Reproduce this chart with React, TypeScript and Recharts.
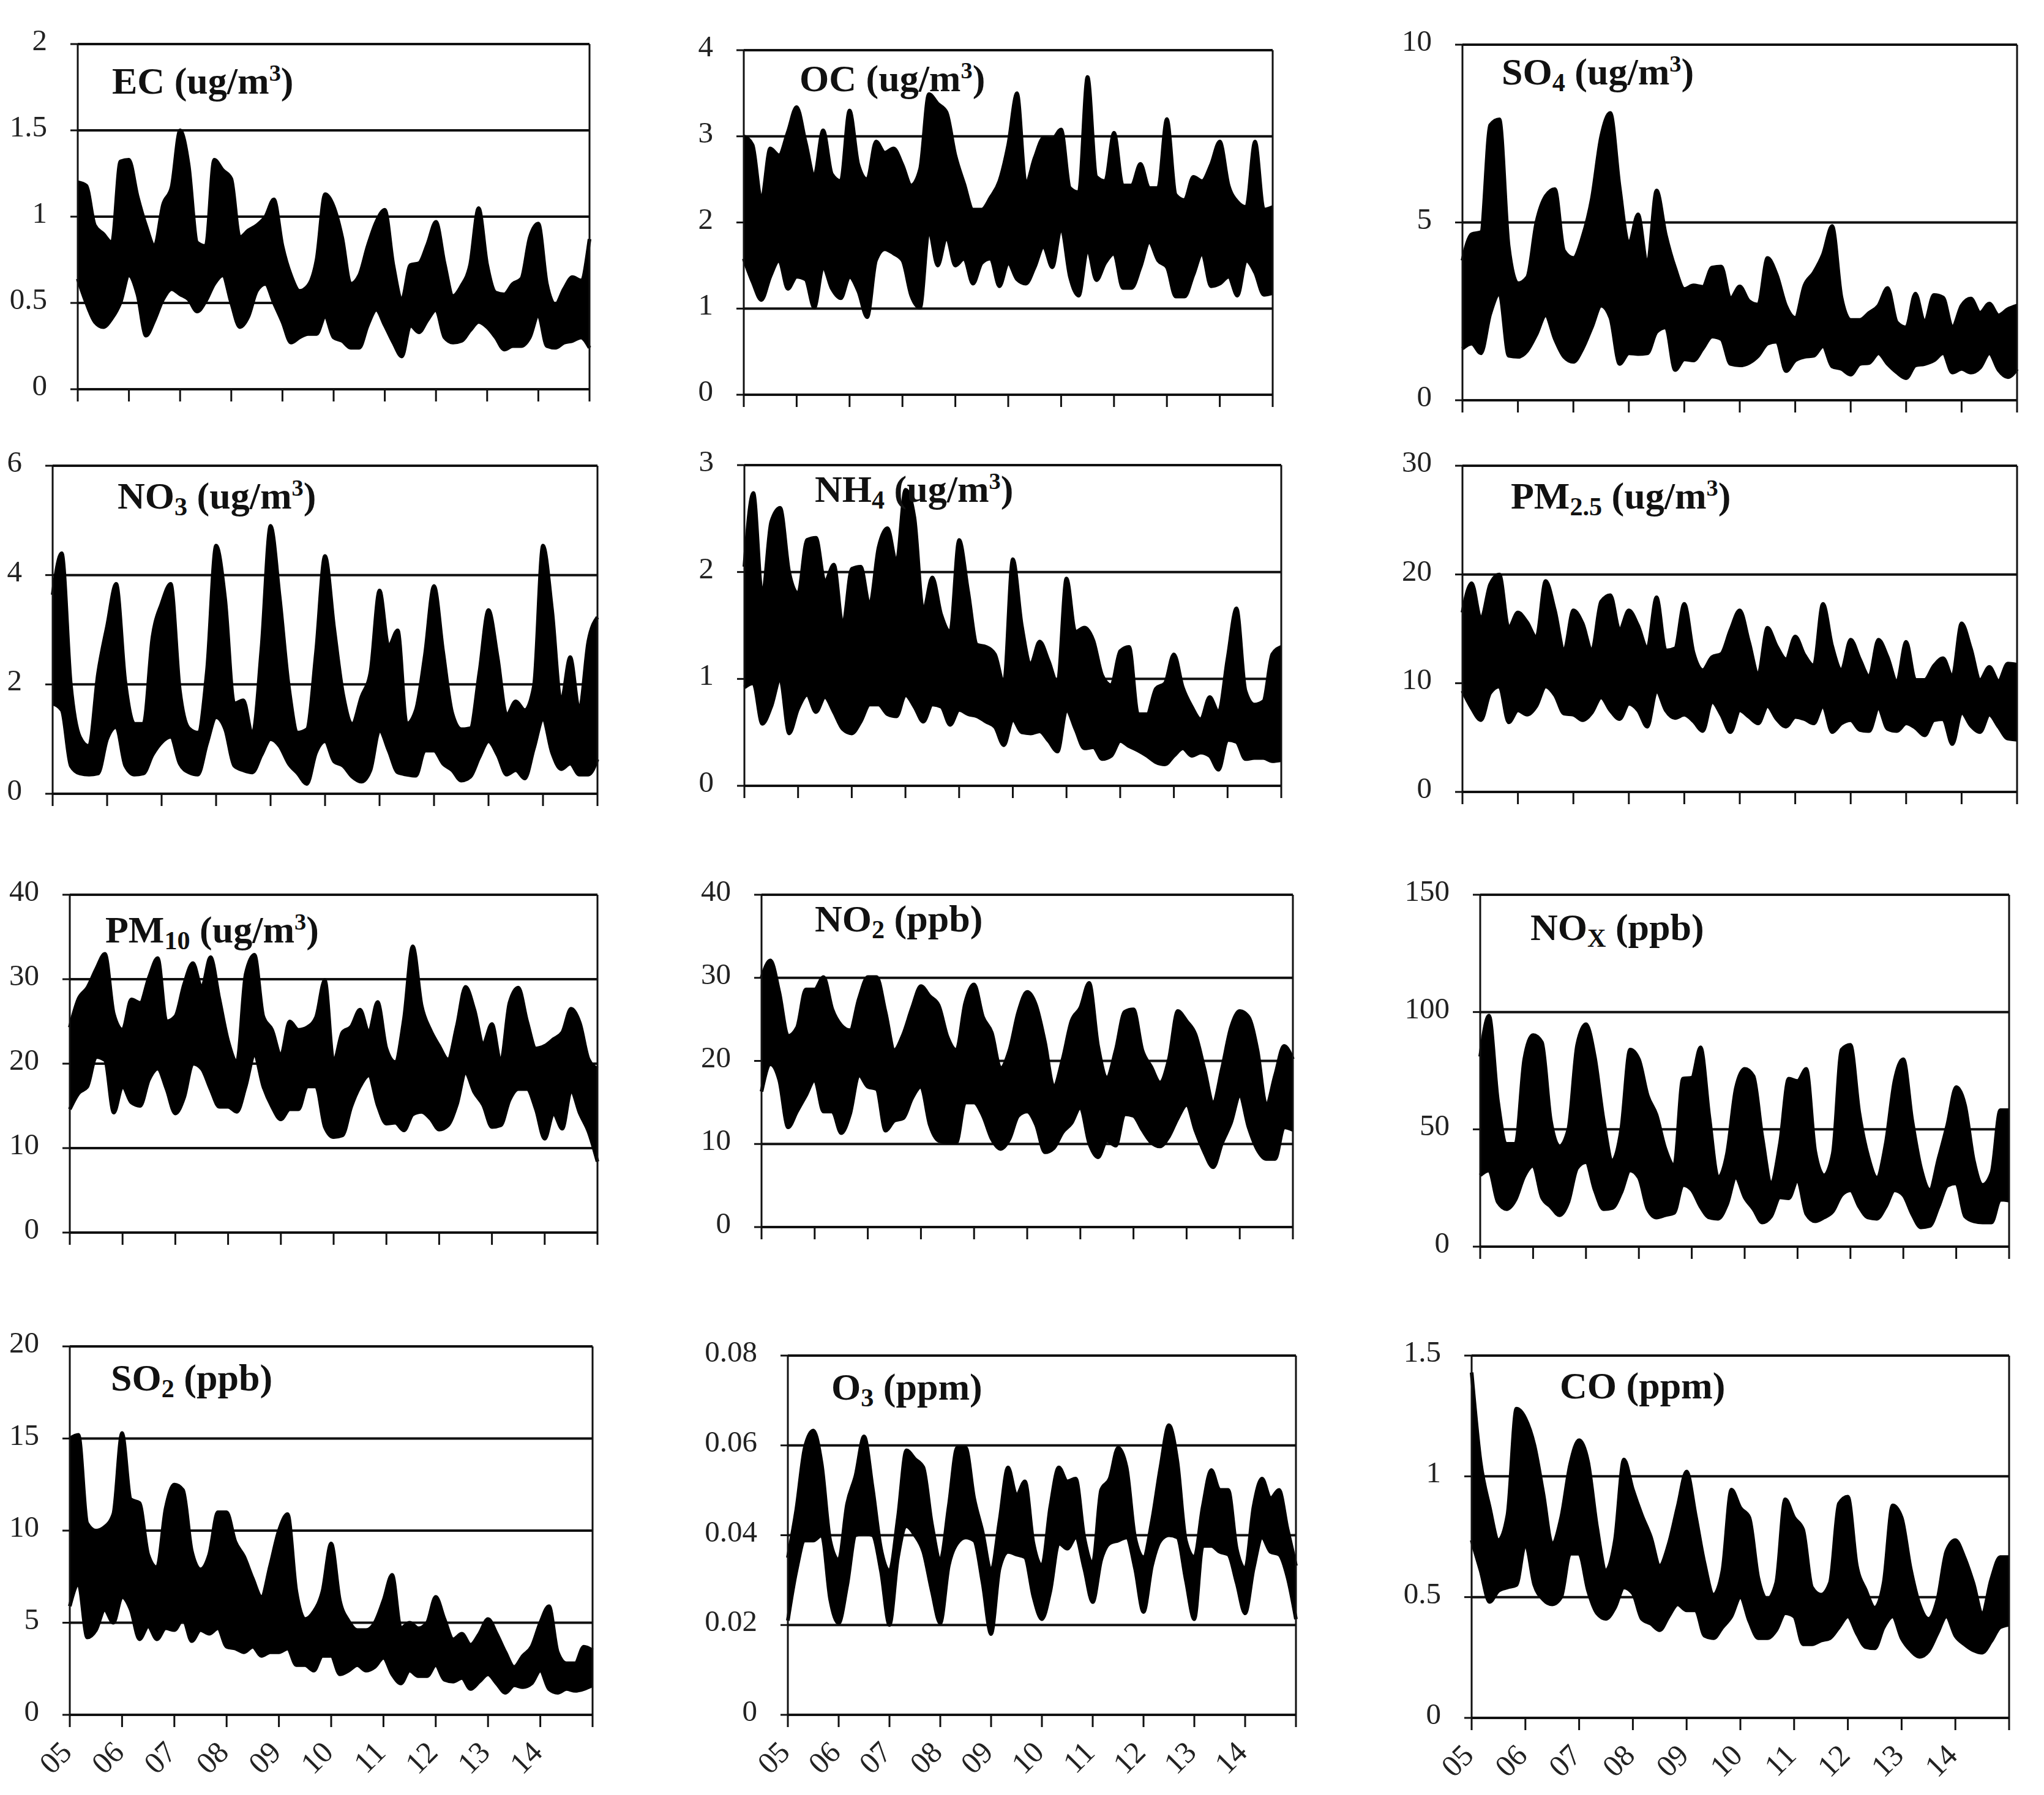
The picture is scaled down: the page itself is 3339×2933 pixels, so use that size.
import React from 'react';
import { AreaChart, Area, XAxis, YAxis, CartesianGrid, ReferenceLine } from 'recharts';

const yearLabels = ['05','06','07','08','09','10','11','12','13','14'];

const ecHi = [1.2,1.18,0.95,0.9,0.85,1.32,1.33,1.12,0.95,0.83,1.07,1.17,1.5,1.3,0.85,0.83,1.33,1.27,1.22,0.88,0.92,0.95,1.0,1.1,0.83,0.66,0.57,0.6,0.75,1.13,1.06,0.88,0.61,0.66,0.83,0.97,1.04,0.72,0.52,0.72,0.73,0.84,0.97,0.73,0.54,0.6,0.72,1.05,0.72,0.56,0.55,0.61,0.64,0.88,0.96,0.61,0.49,0.58,0.65,0.63,0.87];
const ecLo = [0.64,0.5,0.39,0.36,0.41,0.5,0.66,0.55,0.31,0.4,0.52,0.58,0.55,0.52,0.45,0.51,0.61,0.66,0.5,0.36,0.42,0.57,0.61,0.5,0.39,0.27,0.3,0.32,0.32,0.42,0.3,0.28,0.24,0.24,0.37,0.46,0.37,0.27,0.19,0.37,0.33,0.4,0.46,0.3,0.27,0.28,0.34,0.39,0.36,0.3,0.23,0.25,0.25,0.3,0.43,0.25,0.24,0.27,0.28,0.3,0.24];

const ocHi = [3.0,2.9,2.26,2.86,2.78,3.05,3.34,2.94,2.54,3.07,2.56,2.48,3.3,2.67,2.5,2.94,2.81,2.86,2.67,2.43,2.62,3.49,3.38,3.28,2.78,2.45,2.15,2.15,2.29,2.48,2.9,3.5,2.45,2.75,2.98,2.97,3.08,2.4,2.35,3.69,2.53,2.48,3.04,2.43,2.43,2.68,2.4,2.4,3.2,2.32,2.26,2.53,2.48,2.67,2.94,2.43,2.24,2.18,2.94,2.15,2.18];
const ocLo = [1.58,1.31,1.1,1.37,1.56,1.23,1.37,1.34,1.01,1.48,1.23,1.12,1.37,1.2,0.9,1.56,1.69,1.64,1.56,1.15,1.01,1.91,1.5,1.83,1.5,1.58,1.29,1.53,1.58,1.26,1.53,1.34,1.29,1.48,1.72,1.48,1.94,1.37,1.15,1.69,1.33,1.53,1.64,1.24,1.24,1.48,1.77,1.56,1.48,1.14,1.14,1.39,1.64,1.26,1.29,1.37,1.15,1.56,1.42,1.16,1.18];

const so4Hi = [3.93,4.67,4.73,7.74,7.9,4.33,3.29,3.46,5.0,5.74,5.94,4.2,4.0,4.6,5.67,7.41,8.08,6.0,4.4,5.23,3.8,5.9,4.65,3.73,3.13,3.23,3.19,3.73,3.76,2.86,3.2,2.79,2.69,4.0,3.53,2.66,2.32,3.23,3.59,4.1,4.9,2.9,2.26,2.26,2.46,2.66,3.16,2.19,2.05,3.0,2.19,2.96,2.89,2.05,2.66,2.86,2.46,2.72,2.39,2.56,2.66];
const so4Lo = [1.45,1.59,1.32,2.42,3.0,1.25,1.22,1.39,1.85,2.39,1.72,1.22,1.08,1.45,2.05,2.66,2.32,1.02,1.32,1.3,1.32,1.92,2.05,0.85,1.15,1.12,1.45,1.79,1.72,1.02,0.98,1.05,1.25,1.59,1.65,0.82,1.12,1.22,1.25,1.52,0.95,0.88,0.72,1.02,1.05,1.32,1.02,0.78,0.62,0.98,1.02,1.12,1.32,0.78,0.88,0.78,0.92,1.32,0.85,0.65,0.88];

const no3Hi = [3.64,4.4,2.0,1.04,0.87,2.2,3.07,3.84,2.05,1.28,1.28,2.87,3.48,3.84,1.9,1.2,1.12,2.26,4.54,3.56,1.65,1.71,1.08,2.66,4.9,3.6,1.97,1.12,1.18,2.58,4.35,3.03,1.81,1.28,1.77,2.22,3.72,2.7,2.99,1.28,1.53,2.54,3.8,2.6,1.48,1.18,1.2,2.22,3.36,2.5,1.44,1.69,1.53,1.97,4.54,3.36,1.69,2.5,1.53,2.79,3.23];
const no3Lo = [1.65,1.53,0.51,0.37,0.35,0.37,1.0,1.22,0.51,0.35,0.37,0.71,0.94,1.04,0.55,0.39,0.35,0.92,1.4,1.18,0.51,0.43,0.39,0.71,1.0,0.87,0.55,0.37,0.18,0.75,0.96,0.59,0.51,0.31,0.22,0.43,1.16,0.79,0.39,0.35,0.33,0.79,0.79,0.55,0.43,0.24,0.31,0.67,0.96,0.71,0.35,0.43,0.28,0.83,1.36,0.75,0.45,0.55,0.35,0.35,0.63];

const nh4Hi = [2.05,2.74,1.78,2.47,2.6,2.0,1.8,2.3,2.32,1.91,2.07,1.5,2.03,2.05,1.69,2.23,2.41,2.09,2.77,2.51,1.64,1.95,1.6,1.44,2.3,1.82,1.32,1.3,1.23,0.96,2.12,1.5,1.14,1.35,1.17,0.96,1.94,1.44,1.48,1.36,1.03,0.94,1.26,1.3,0.67,0.67,0.91,0.96,1.23,0.92,0.74,0.62,0.83,0.69,1.19,1.66,0.89,0.76,0.79,1.23,1.3];
const nh4Lo = [0.92,0.96,0.58,0.74,1.0,0.49,0.72,0.85,0.69,0.83,0.69,0.53,0.49,0.6,0.76,0.76,0.67,0.65,0.85,0.74,0.6,0.76,0.74,0.57,0.71,0.67,0.65,0.6,0.55,0.38,0.62,0.5,0.49,0.51,0.42,0.32,0.71,0.53,0.35,0.36,0.25,0.28,0.42,0.37,0.33,0.28,0.22,0.2,0.28,0.35,0.28,0.31,0.28,0.15,0.43,0.41,0.25,0.26,0.26,0.23,0.24];

const pm25Hi = [16.5,19.2,15.9,19.1,20,15.1,16.5,15.6,14.2,19.4,16.7,13,16.7,15.5,13,17.5,18.1,14.9,16.7,15.3,13.2,17.9,13,13.2,17.3,12.8,11.2,12.4,12.7,14.9,16.7,13.8,10.8,15.1,13.4,12.2,14.3,12.6,11.6,17.3,13.4,11.2,14,12.2,10.6,14,12.4,10.1,13.8,10.3,10.3,11.6,12.3,10.6,15.5,13.2,10.3,11.5,10.2,11.8,11.7];
const pm25Lo = [9.3,7.7,6.6,9.1,9.7,6.4,7.5,7.1,7.9,9.7,8.9,7.2,7.1,6.6,7.3,8.7,7.5,6.7,8.1,7.5,6,9.3,7.5,6.8,7.1,6.5,5.6,8.3,7.1,5.5,7.5,6.9,6.3,7.9,6.7,6,6.9,6.7,6.3,7.9,5.5,6.3,6.6,5.7,5.6,7.7,5.8,5.6,6.3,5.9,5.2,6.6,6.7,4.4,7.3,6.1,5.5,7.1,6,4.9,4.8];

const pm10Hi = [24.3,27.7,29,31.2,33,25.9,24,27.6,27.2,30.2,32.5,25,25.6,29.4,31.9,29,32.6,27.7,22.7,20.2,30.6,32.9,25.6,24,21,25,24,24.3,25.5,29.9,20.2,23.7,24.4,26.4,23.7,27.3,21.8,20.2,25.3,33.9,26.9,24,22.1,20.5,24.4,29.1,26.4,22.4,24.7,20.2,27.2,29,25,21.8,22.1,22.9,23.7,26.5,24.8,20.5,19.4];
const pm10Lo = [14.6,16.5,17.3,20.8,20.4,14.2,17.3,15.4,15,18.1,19.4,17,14.1,16,20,19.4,17,14.9,14.9,14.3,17.3,21,17.3,14.9,13.4,14.6,14.6,17.3,17.3,12.5,11.3,11.5,14.9,17.3,18.6,15.1,12.9,13,12.1,14,14.3,13.5,12.2,12.7,15.1,18.9,16.6,15.1,12.5,12.7,15.7,17,17,14.6,11.1,14.1,12.3,16.8,14.1,11.9,8.4];

const no2Hi = [30,32.1,28.3,23,24,28.6,28.6,30.1,26.2,24.3,23.7,27.5,30.1,30.1,25.9,21.3,23.2,26.4,29,27.8,26.7,22.9,21.3,27,29.2,25.3,23.4,19.1,21.3,25.9,28.3,26.7,22.3,16.9,20.2,24.8,26.4,29.4,21.8,18,21.3,25.9,26.2,21.3,19.3,17.4,20.2,26,24.8,23.2,19.1,15,19.1,24,26,25.3,21.3,14.7,18.3,21.8,20.2];
const no2Lo = [16.3,19.6,17.7,12,13.9,15.8,17.7,13.9,13.9,11.3,13.6,18.3,16.9,16.6,11.6,12.8,13.1,15.5,16.9,12.3,10.4,10.2,10.2,15,15,13.4,10.6,9.4,10.6,13.4,13.9,12.3,9,9.5,11.4,12.5,14.4,10.1,8.4,10.4,9.8,13.6,13.4,11.7,10.2,9.7,10.9,13.1,14.7,11.6,9,7.2,10.1,12.5,15.8,12,9.3,8.2,8.2,12,11.7];

const noxHi = [81,98.5,62.4,43.8,43.8,79.9,90.2,87.1,54,42.8,50,86,94.8,80.9,54,36.6,50,84,79.9,64.4,56.2,41.8,34.5,71.6,72,85,55,29.4,39.7,67.5,75.8,72.7,46.9,27.3,43.8,71.6,70.6,75.8,40.7,30.4,39.7,84,86,57.2,38.7,29.4,43.8,70.6,79.9,54,33.5,24.2,37.6,52,68,60.3,36.6,26.3,31.4,58.2,58.2];
const noxLo = [30.4,32.5,19,16,20,30,34.5,21,17,13.4,19,33.5,36,24,16,16.5,23,32.5,29.4,16,12.4,13.4,14.4,26.3,24.2,17,12.4,11.9,18,29.4,21,16,10.3,12.9,21,20.6,28.4,13.9,10.8,12.4,15,22,24,17,12.4,11.9,17,24,22,13.9,8.2,8.8,17,26,27,12.9,10.8,10.3,10.3,20,19.6];

const so2Hi = [15,15.2,10.4,10,10.2,10.9,15.3,11.7,11.5,8.7,8,11.2,12.5,12.2,8.9,7.9,8.7,11,11,9.4,8.6,7.4,6.4,8.1,10,10.9,6.7,5.2,5.6,6.7,9.3,6.2,5.1,4.6,4.6,5,6.2,7.6,4.7,5,4.7,5,6.4,5.2,4.1,4.4,3.8,4.4,5.2,4.4,3.4,2.6,3.2,3.7,5,5.9,3.4,2.8,2.8,3.7,3.5];
const so2Lo = [5.9,7.1,4.2,4.6,5.7,5,6.4,5.7,4.1,4.8,4.1,4.7,4.6,5.2,4,4.6,4.4,4.7,3.7,3.6,3.4,3.7,3.2,3.4,3.4,3.6,2.7,2.7,2.4,3.2,3.2,2.2,2.4,2.7,2.4,2.6,3.1,2.2,1.7,2.4,2.1,2.1,2.7,1.9,1.8,2,1.4,1.8,2.2,1.7,1.2,1.6,1.5,1.7,2.4,1.4,1.2,1.4,1.3,1.4,1.6];

const o3Hi = [0.035,0.0457,0.0595,0.0633,0.0558,0.0388,0.0345,0.047,0.0533,0.062,0.0507,0.037,0.032,0.0439,0.0589,0.057,0.0551,0.0426,0.0345,0.0464,0.0595,0.0595,0.0482,0.0407,0.032,0.0432,0.0551,0.0489,0.052,0.0382,0.0332,0.0464,0.0551,0.052,0.0526,0.0395,0.0338,0.0501,0.0526,0.0595,0.0551,0.0395,0.0351,0.0432,0.0551,0.0645,0.0564,0.0388,0.0351,0.0464,0.0545,0.0501,0.0501,0.037,0.0326,0.0464,0.0526,0.0482,0.0501,0.0414,0.0332];
const o3Lo = [0.021,0.032,0.0388,0.0388,0.04,0.0257,0.0204,0.0288,0.04,0.0404,0.04,0.032,0.02,0.035,0.042,0.04,0.0363,0.0276,0.0204,0.0332,0.0382,0.0395,0.0388,0.0294,0.018,0.0326,0.0363,0.0357,0.0351,0.0263,0.0213,0.0276,0.0382,0.037,0.0395,0.0326,0.0251,0.0345,0.0382,0.0388,0.0395,0.0326,0.0229,0.0332,0.0388,0.04,0.0395,0.03,0.0213,0.0376,0.0376,0.0363,0.0357,0.0294,0.0226,0.0326,0.0395,0.0363,0.0357,0.0307,0.0213];

const coHi = [1.43,1.06,0.875,0.736,0.84,1.28,1.24,1.13,0.93,0.72,0.83,1.05,1.15,1.06,0.79,0.61,0.736,1.07,0.945,0.84,0.75,0.63,0.72,0.875,1.02,0.84,0.64,0.51,0.61,0.945,0.87,0.83,0.58,0.49,0.56,0.905,0.83,0.78,0.54,0.51,0.56,0.887,0.916,0.63,0.53,0.456,0.56,0.88,0.83,0.62,0.47,0.41,0.49,0.69,0.736,0.666,0.56,0.433,0.573,0.666,0.666];
const coLo = [0.736,0.61,0.48,0.526,0.54,0.55,0.72,0.55,0.49,0.47,0.5,0.68,0.68,0.526,0.433,0.41,0.456,0.54,0.515,0.41,0.39,0.363,0.42,0.47,0.445,0.445,0.34,0.33,0.375,0.42,0.5,0.4,0.33,0.33,0.363,0.433,0.42,0.305,0.305,0.32,0.33,0.375,0.42,0.35,0.293,0.288,0.375,0.42,0.33,0.28,0.253,0.276,0.35,0.42,0.34,0.305,0.28,0.27,0.317,0.375,0.386];

const FONT = '"Liberation Serif", serif';
const YEAR_TICKS = [0,1,2,3,4,5,6,7,8,9,10];
const PAD = { left: 160, top: 40, right: 20, bottom: 130 };

const buildRows = (hi: number[], lo: number[]) =>
  hi.map((h, i) => ({ x: i / 6, band: [lo[i], h] }));

const XTick = (props: any) => {
  const { x, y, payload, showLabels } = props;
  const label = yearLabels[payload.value];
  if (!showLabels || !label) return <g />;
  return (
    <text
      x={0}
      y={0}
      transform={`translate(${x + 6},${y + 42}) rotate(-45)`}
      textAnchor="end"
      fontFamily={FONT}
      fontSize={50}
      fill="#222"
    >
      {label}
    </text>
  );
};

const YTick = (props: any) => {
  const { x, y, payload } = props;
  return (
    <text x={x - 36} y={y + 10} textAnchor="end" fontFamily={FONT} fontSize={49} fill="#222">
      {String(payload.value)}
    </text>
  );
};

type PanelProps = {
  hi: number[]; lo: number[]; yMax: number; yTicks: number[];
  box: [number, number, number, number]; labels?: boolean;
  title: React.ReactNode; titleAt: [number, number];
};

const Sub = ({ children }: { children: React.ReactNode }) => (
  <span style={{ fontSize: '0.68em', verticalAlign: '-0.25em', lineHeight: 0 }}>{children}</span>
);
const Sup = ({ children }: { children: React.ReactNode }) => (
  <span style={{ fontSize: '0.62em', verticalAlign: '0.55em', lineHeight: 0 }}>{children}</span>
);
const Ug = () => <>(ug/m<Sup>3</Sup>)</>;

const Panel = ({ hi, lo, yMax, yTicks, box, labels, title, titleAt }: PanelProps) => {
  const [l, t, r, b] = box;
  return (
    <>
      <div style={{ position: 'absolute', left: l - PAD.left, top: t - PAD.top }}>
        <AreaChart
          width={r - l + PAD.left + PAD.right}
          height={b - t + PAD.top + PAD.bottom}
          data={buildRows(hi, lo)}
          margin={{ top: PAD.top, right: PAD.right, bottom: 0, left: 0 }}
        >
          <CartesianGrid vertical={false} stroke="#111" strokeWidth={4} horizontalValues={yTicks} />
          <XAxis
            dataKey="x"
            type="number"
            domain={[0, 10]}
            ticks={YEAR_TICKS}
            interval={0}
            height={PAD.bottom}
            tickSize={20}
            tickLine={{ stroke: '#111', strokeWidth: 3 }}
            axisLine={{ stroke: '#111', strokeWidth: 4 }}
            tick={<XTick showLabels={labels} />}
          />
          <YAxis
            type="number"
            domain={[0, yMax]}
            ticks={yTicks}
            interval={0}
            width={PAD.left}
            tickSize={12}
            tickLine={{ stroke: '#111', strokeWidth: 3 }}
            axisLine={{ stroke: '#111', strokeWidth: 3 }}
            tick={<YTick />}
          />
          <ReferenceLine x={10} stroke="#111" strokeWidth={3} />
          <Area
            dataKey="band"
            type="monotoneX"
            stroke="#000"
            strokeWidth={6}
            strokeLinejoin="round"
            fill="#000"
            fillOpacity={1}
            isAnimationActive={false}
            dot={false}
            activeDot={false}
          />
        </AreaChart>
      </div>
      <div
        style={{
          position: 'absolute', left: titleAt[0], top: titleAt[1], transform: 'translateY(-50%)',
          fontFamily: FONT, fontWeight: 700, fontSize: 62, lineHeight: 1, color: '#111', whiteSpace: 'nowrap',
        }}
      >
        {title}
      </div>
    </>
  );
};

export default function App() {
  return (
    <div style={{ position: 'absolute', left: 0, top: 0, width: 3339, height: 2933, background: '#fff', overflow: 'hidden' }}>
      <Panel hi={ecHi} lo={ecLo} yMax={2} yTicks={[0,0.5,1,1.5,2]} box={[127,72,963,636]} titleAt={[183,132]} title={<>EC <Ug /></>} />
      <Panel hi={ocHi} lo={ocLo} yMax={4} yTicks={[0,1,2,3,4]} box={[1215,82,2079,645]} titleAt={[1306,128]} title={<>OC <Ug /></>} />
      <Panel hi={so4Hi} lo={so4Lo} yMax={10} yTicks={[0,5,10]} box={[2389,73,3295,654]} titleAt={[2453,117]} title={<>SO<Sub>4</Sub> <Ug /></>} />

      <Panel hi={no3Hi} lo={no3Lo} yMax={6} yTicks={[0,2,4,6]} box={[86,761,976,1297]} titleAt={[192,810]} title={<>NO<Sub>3</Sub> <Ug /></>} />
      <Panel hi={nh4Hi} lo={nh4Lo} yMax={3} yTicks={[0,1,2,3]} box={[1216,760,2093,1284]} titleAt={[1331,799]} title={<>NH<Sub>4</Sub> <Ug /></>} />
      <Panel hi={pm25Hi} lo={pm25Lo} yMax={30} yTicks={[0,10,20,30]} box={[2389,761,3295,1294]} titleAt={[2468,810]} title={<>PM<Sub>2.5</Sub> <Ug /></>} />

      <Panel hi={pm10Hi} lo={pm10Lo} yMax={40} yTicks={[0,10,20,30,40]} box={[114,1462,976,2014]} titleAt={[172,1519]} title={<>PM<Sub>10</Sub> <Ug /></>} />
      <Panel hi={no2Hi} lo={no2Lo} yMax={40} yTicks={[0,10,20,30,40]} box={[1244,1462,2112,2005]} titleAt={[1331,1501]} title={<>NO<Sub>2</Sub> (ppb)</>} />
      <Panel hi={noxHi} lo={noxLo} yMax={150} yTicks={[0,50,100,150]} box={[2418,1462,3282,2037]} titleAt={[2500,1515]} title={<>NO<Sub>X</Sub> (ppb)</>} />

      <Panel hi={so2Hi} lo={so2Lo} yMax={20} yTicks={[0,5,10,15,20]} box={[114,2200,968,2802]} labels titleAt={[181,2251]} title={<>SO<Sub>2</Sub> (ppb)</>} />
      <Panel hi={o3Hi} lo={o3Lo} yMax={0.08} yTicks={[0,0.02,0.04,0.06,0.08]} box={[1287,2215,2117,2802]} labels titleAt={[1358,2266]} title={<>O<Sub>3</Sub> (ppm)</>} />
      <Panel hi={coHi} lo={coLo} yMax={1.5} yTicks={[0,0.5,1,1.5]} box={[2404,2215,3282,2807]} labels titleAt={[2548,2264]} title={<>CO (ppm)</>} />
    </div>
  );
}
